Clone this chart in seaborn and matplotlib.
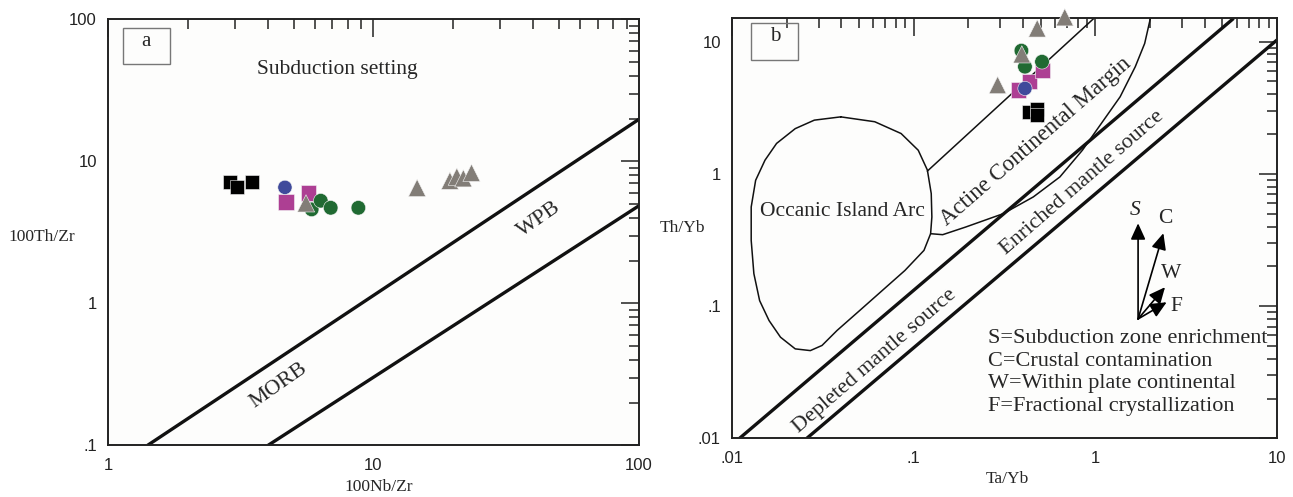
import numpy as np
import pandas as pd
import seaborn as sns
import matplotlib.pyplot as plt
from matplotlib.patches import Rectangle
from matplotlib.ticker import LogLocator, NullFormatter

# ---------------- data, panel a (100Nb/Zr vs 100Th/Zr)
GROUPS = ['G1', 'G2', 'G3', 'G4', 'G5']
COLORS = {'G1': '#000000', 'G2': '#ad3f93', 'G3': '#3f4a9b', 'G4': '#206a32', 'G5': '#827d77'}
MARKERS = {'G1': 's', 'G2': 's', 'G3': 'o', 'G4': 'o', 'G5': '^'}
SIZES = {'G1': 100, 'G2': 125, 'G3': 105, 'G4': 110, 'G5': 155}

a_x = [[2.88, 3.07, 3.48],
       [4.68, 5.70],
       [4.64],
       [5.85, 6.33, 6.90, 8.77],
       [5.57, 14.6, 19.4, 20.6, 21.8, 23.4]]
a_y = [[7.18, 6.56, 7.18],
       [5.19, 6.01],
       [6.56],
       [4.59, 5.28, 4.71, 4.71],
       [5.06, 6.5, 7.3, 7.8, 7.6, 8.3]]

morb_x = [1.41, 100]
morb_y = [0.1, 19.8]
wpb_x = [4.01, 100]
wpb_y = [0.1, 4.87]

# ---------------- data, panel b (Ta/Yb vs Th/Yb)
b_x = [[0.43, 0.48, 0.48],
       [0.377, 0.434, 0.513],
       [0.41],
       [0.392, 0.41, 0.509],
       [0.29, 0.394, 0.479, 0.679]]
b_y = [[2.95, 3.1, 2.8],
       [4.3, 4.98, 6.03],
       [4.43],
       [8.55, 6.47, 7.05],
       [4.7, 8.02, 12.6, 15.3]]

oia_x = [0.0397, 0.0611, 0.0853, 0.106, 0.119, 0.125, 0.126, 0.124, 0.114, 0.0895,
         0.0671, 0.0505, 0.0379, 0.0313, 0.0270, 0.0223, 0.0185, 0.0160, 0.0142, 0.0132,
         0.01276, 0.01276, 0.0135, 0.0152, 0.0176, 0.0223, 0.0284, 0.0397]
oia_y = [2.70, 2.48, 2.02, 1.51, 1.07, 0.71, 0.472, 0.353, 0.264, 0.186,
         0.131, 0.0927, 0.0655, 0.0504, 0.0461, 0.0475, 0.0582, 0.0778, 0.110, 0.176,
         0.314, 0.562, 0.895, 1.27, 1.70, 2.20, 2.55, 2.70]
acm_up_x = [0.119, 0.982]
acm_up_y = [1.05, 15.0]
acm_low_x = [0.124, 0.1445, 0.193, 0.311, 0.456, 0.638, 0.849, 1.08, 1.37, 1.66, 1.87, 2.01]
acm_low_y = [0.353, 0.347, 0.396, 0.5, 0.67, 0.948, 1.51, 2.41, 3.83, 6.47, 9.7, 15.0]
mantle_up_x = [0.011, 5.77]
mantle_up_y = [0.01, 15.0]
mantle_low_x = [0.0258, 10]
mantle_low_y = [0.01, 10.3]

arrow_origin = (1.72, 0.08)
arrow_names = ['S', 'C', 'W', 'F']
arrow_tip_x = [1.72, 2.37, 2.42, 2.47]
arrow_tip_y = [0.423, 0.356, 0.139, 0.107]
arrow_lab_x = [1.65, 2.44, 2.63, 2.80]
arrow_lab_y = [0.527, 0.461, 0.177, 0.099]

legend_lines = ['S=Subduction zone enrichment',
                'C=Crustal contamination',
                'W=Within plate continental',
                'F=Fractional crystallization']

sns.set_style('white')
plt.rcParams['font.family'] = ['Liberation Sans Narrow', 'Liberation Sans', 'DejaVu Sans']
SERIF = 'Liberation Serif'


def to_frame(xs, ys):
    rows = []
    for g, x, y in zip(GROUPS, xs, ys):
        rows += [(g, xi, yi) for xi, yi in zip(x, y)]
    return pd.DataFrame(rows, columns=['group', 'x', 'y'])


def style_axes(ax, xlim, ylim, xticks, xlabels, yticks, ylabels):
    ax.set_xscale('log')
    ax.set_yscale('log')
    ax.set_xlim(xlim)
    ax.set_ylim(ylim)
    ax.set_xticks(xticks)
    ax.set_xticklabels(xlabels)
    ax.set_yticks(yticks)
    ax.set_yticklabels(ylabels)
    for axis in (ax.xaxis, ax.yaxis):
        axis.set_minor_locator(LogLocator(base=10, subs=np.arange(2, 10)))
        axis.set_minor_formatter(NullFormatter())
    ax.tick_params(which='both', direction='in', top=True, right=True,
                   color='#222222', labelsize=12, labelcolor='#222222')
    ax.tick_params(which='major', length=13, width=1.1)
    ax.tick_params(which='minor', length=7, width=1.1)
    ax.tick_params(axis='x', pad=9)
    ax.tick_params(axis='y', pad=8)
    for sp in ax.spines.values():
        sp.set_linewidth(1.4)
        sp.set_color('#222222')
    ax.set_facecolor('#fdfdfc')
    ax.set_xlabel('')
    ax.set_ylabel('')


def panel_box(ax, x0, y0, w, h, label, tx, ty):
    ax.add_patch(Rectangle((x0, y0), w, h, transform=ax.transAxes, fill=False,
                           edgecolor='#777777', lw=1.0, zorder=6))
    ax.text(tx, ty, label, transform=ax.transAxes, ha='center', va='center',
            family=SERIF, fontsize=15, zorder=7)


def scatter(ax, df):
    sns.scatterplot(data=df, x='x', y='y', hue='group', style='group', size='group',
                    palette=COLORS, markers=MARKERS, sizes=SIZES, legend=False,
                    edgecolor='#f4f4f4', linewidth=0.4, clip_on=False, zorder=5, ax=ax)


fig = plt.figure(figsize=(12.93, 4.97), dpi=100)
ax_a = fig.add_axes([0.0835, 0.104, 0.4107, 0.857])
ax_b = fig.add_axes([0.5661, 0.118, 0.4215, 0.845])

# ---------------- panel a
ax_a.plot(morb_x, morb_y, color='#111111', lw=2.4, solid_capstyle='butt')
ax_a.plot(wpb_x, wpb_y, color='#111111', lw=2.4, solid_capstyle='butt')
scatter(ax_a, to_frame(a_x, a_y))
style_axes(ax_a, (1, 100), (0.1, 100), [1, 10, 100], ['1', '10', '100'],
           [0.1, 1, 10, 100], ['.1', '1', '10', '100'])
ax_a.text(0.431, 0.882, 'Subduction setting', transform=ax_a.transAxes, ha='center',
          va='center', family=SERIF, fontsize=15.5)
ax_a.text(4.39, 0.262, 'MORB', rotation=35, ha='center', va='center', family=SERIF, fontsize=16)
ax_a.text(42.0, 3.88, 'WPB', rotation=35, ha='center', va='center', family=SERIF, fontsize=16)
ax_a.text(-0.062, 0.49, '100Th/Zr', transform=ax_a.transAxes, ha='right', va='center',
          family=SERIF, fontsize=12.5)
ax_a.text(0.51, -0.098, '100Nb/Zr', transform=ax_a.transAxes, ha='center', va='center',
          family=SERIF, fontsize=12.5)
panel_box(ax_a, 0.029, 0.896, 0.088, 0.084, 'a', 0.072, 0.949)

# ---------------- panel b
line_kw = dict(color='#111111', lw=1.1)
ax_b.plot(oia_x, oia_y, **line_kw)
ax_b.plot(acm_up_x, acm_up_y, **line_kw)
ax_b.plot(acm_low_x, acm_low_y, **line_kw)
ax_b.plot(mantle_up_x, mantle_up_y, color='#111111', lw=2.4, solid_capstyle='butt')
ax_b.plot(mantle_low_x, mantle_low_y, color='#111111', lw=2.4, solid_capstyle='butt')
scatter(ax_b, to_frame(b_x, b_y))
style_axes(ax_b, (0.01, 10), (0.01, 15), [0.01, 0.1, 1, 10], ['.01', '.1', '1', '10'],
           [0.01, 0.1, 1, 10], ['.01', '.1', '1', '10'])

ax_b.text(0.0406, 0.52, 'Occanic Island Arc', ha='center', va='center', family=SERIF, fontsize=15.5)
ax_b.text(0.47, 1.75, 'Actine Continental Margin', rotation=41, ha='center', va='center',
          family=SERIF, fontsize=16.5)
ax_b.text(0.85, 0.85, 'Enriched mantle source', rotation=41, ha='center', va='center',
          family=SERIF, fontsize=16)
ax_b.text(0.0611, 0.0387, 'Depleted mantle source', rotation=41, ha='center', va='center',
          family=SERIF, fontsize=16)

for name, tx, ty, lx, ly in zip(arrow_names, arrow_tip_x, arrow_tip_y, arrow_lab_x, arrow_lab_y):
    ax_b.annotate('', xy=(tx, ty), xytext=arrow_origin,
                  arrowprops=dict(arrowstyle='-|>,head_length=0.7,head_width=0.32',
                                  color='black', lw=1.2, shrinkA=0, shrinkB=0,
                                  mutation_scale=14))
    ax_b.text(lx, ly, name, ha='center', va='center', family=SERIF, fontsize=15.5,
              style='italic' if name == 'S' else 'normal')

for i, line in enumerate(legend_lines):
    ax_b.text(0.47, 0.237 - i * 0.0537, line, transform=ax_b.transAxes, ha='left',
              va='center', family=SERIF, fontsize=16)

ax_b.text(-0.05, 0.5, 'Th/Yb', transform=ax_b.transAxes, ha='right', va='center',
          family=SERIF, fontsize=12.5)
ax_b.text(0.506, -0.097, 'Ta/Yb', transform=ax_b.transAxes, ha='center', va='center',
          family=SERIF, fontsize=12.5)
panel_box(ax_b, 0.035, 0.90, 0.086, 0.088, 'b', 0.0797, 0.956)

fig.savefig('out.png', dpi=100)
